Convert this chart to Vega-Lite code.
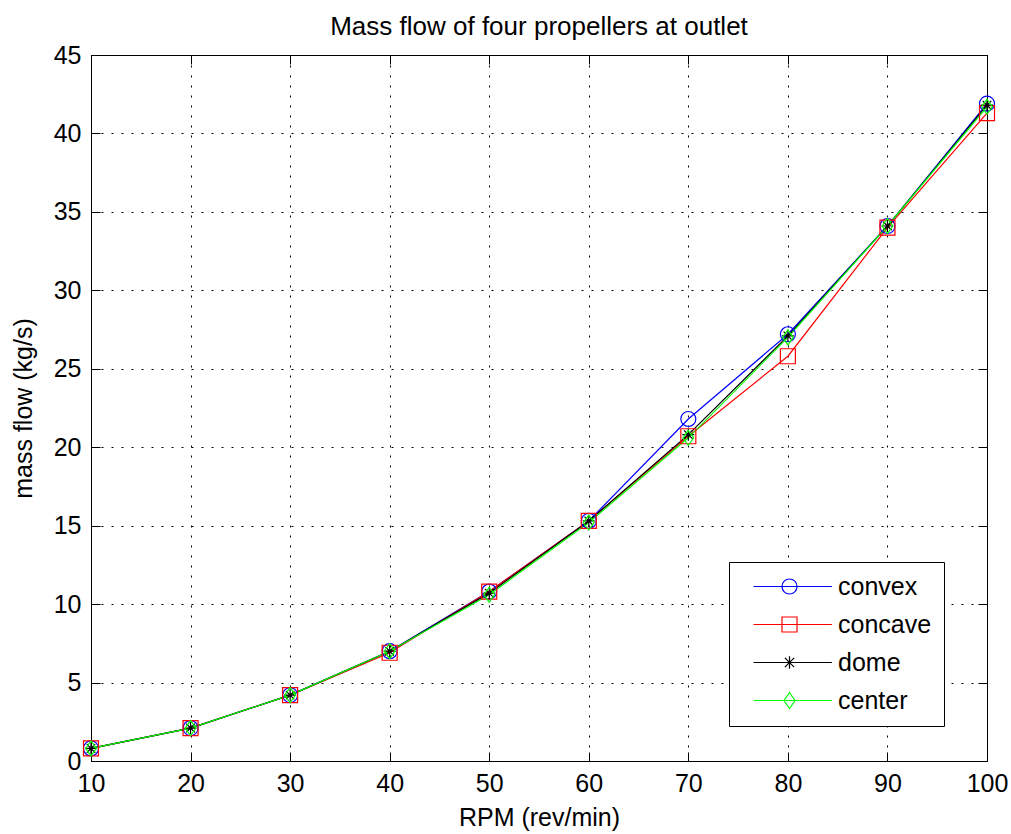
{
  "$schema": "https://vega.github.io/schema/vega-lite/v6.json",
  "autosize": {"type": "none"},
  "width": 896,
  "height": 706,
  "padding": {"left": 91, "top": 55, "right": 24, "bottom": 73},
  "background": "white",
  "config": {
    "font": "Liberation Sans",
    "view": {"stroke": "black", "strokeWidth": 1},
    "axis": {"domain": false}
  },
  "title": {"text": "Mass flow of four propellers at outlet", "fontSize": 26, "fontWeight": "normal", "color": "black", "offset": 3, "font": "Liberation Sans"},
  "data": {"values": [
    {"rpm": 10, "series": "convex", "flow": 0.8},
    {"rpm": 20, "series": "convex", "flow": 2.1},
    {"rpm": 30, "series": "convex", "flow": 4.2},
    {"rpm": 40, "series": "convex", "flow": 7.0},
    {"rpm": 50, "series": "convex", "flow": 10.8},
    {"rpm": 60, "series": "convex", "flow": 15.3},
    {"rpm": 70, "series": "convex", "flow": 21.8},
    {"rpm": 80, "series": "convex", "flow": 27.2},
    {"rpm": 90, "series": "convex", "flow": 34.1},
    {"rpm": 100, "series": "convex", "flow": 41.9},
    {"rpm": 10, "series": "concave", "flow": 0.8},
    {"rpm": 20, "series": "concave", "flow": 2.1},
    {"rpm": 30, "series": "concave", "flow": 4.2},
    {"rpm": 40, "series": "concave", "flow": 6.9},
    {"rpm": 50, "series": "concave", "flow": 10.8},
    {"rpm": 60, "series": "concave", "flow": 15.3},
    {"rpm": 70, "series": "concave", "flow": 20.7},
    {"rpm": 80, "series": "concave", "flow": 25.8},
    {"rpm": 90, "series": "concave", "flow": 34.0},
    {"rpm": 100, "series": "concave", "flow": 41.3},
    {"rpm": 10, "series": "dome", "flow": 0.8},
    {"rpm": 20, "series": "dome", "flow": 2.1},
    {"rpm": 30, "series": "dome", "flow": 4.2},
    {"rpm": 40, "series": "dome", "flow": 7.0},
    {"rpm": 50, "series": "dome", "flow": 10.7},
    {"rpm": 60, "series": "dome", "flow": 15.3},
    {"rpm": 70, "series": "dome", "flow": 20.8},
    {"rpm": 80, "series": "dome", "flow": 27.1},
    {"rpm": 90, "series": "dome", "flow": 34.1},
    {"rpm": 100, "series": "dome", "flow": 41.8},
    {"rpm": 10, "series": "center", "flow": 0.8},
    {"rpm": 20, "series": "center", "flow": 2.1},
    {"rpm": 30, "series": "center", "flow": 4.2},
    {"rpm": 40, "series": "center", "flow": 7.0},
    {"rpm": 50, "series": "center", "flow": 10.6},
    {"rpm": 60, "series": "center", "flow": 15.2},
    {"rpm": 70, "series": "center", "flow": 20.6},
    {"rpm": 80, "series": "center", "flow": 27.0},
    {"rpm": 90, "series": "center", "flow": 34.1},
    {"rpm": 100, "series": "center", "flow": 41.7}
  ]},
  "resolve": {"axis": {"x": "independent", "y": "independent"}},
  "layer": [
    {
      "mark": {"type": "line", "strokeWidth": 1.2},
      "encoding": {
        "x": {"field": "rpm", "type": "quantitative", "scale": {"domain": [10, 100], "nice": false, "zero": false},
          "axis": {"orient": "bottom", "values": [10,20,30,40,50,60,70,80,90,100], "title": "RPM (rev/min)", "labelFontSize": 25, "titleFontSize": 25, "titleFontWeight": "normal", "labelColor": "black", "titleColor": "black", "labelPadding": 19, "titlePadding": 9, "tickSize": -9, "tickColor": "black", "grid": true, "gridColor": "black", "gridDash": [2, 8], "gridOpacity": 1, "labelFlush": false, "labelOverlap": false, "labelFont": "Liberation Sans", "titleFont": "Liberation Sans"}},
        "y": {"field": "flow", "type": "quantitative", "scale": {"domain": [0, 45], "nice": false},
          "axis": {"orient": "left", "values": [0,5,10,15,20,25,30,35,40,45], "title": "mass flow (kg/s)", "labelFontSize": 25, "titleFontSize": 25, "titleFontWeight": "normal", "labelColor": "black", "titleColor": "black", "labelPadding": 19, "titlePadding": 17, "tickSize": -9, "tickColor": "black", "grid": true, "gridColor": "black", "gridDash": [2, 8], "gridOpacity": 1, "labelFlush": false, "labelOverlap": false, "labelFont": "Liberation Sans", "titleFont": "Liberation Sans"}},
        "color": {"field": "series", "type": "nominal",
          "scale": {"domain": ["convex", "concave", "dome", "center"], "range": ["#0000ff", "#ff0000", "#000000", "#00ff00"]},
          "legend": {
            "title": null, "orient": "none", "legendX": 638, "legendY": 507,
            "strokeColor": "black", "fillColor": "white", "padding": 12,
            "labelFontSize": 25, "labelColor": "black", "labelFont": "Liberation Sans", "labelOffset": 72,
            "symbolSize": 256, "symbolStrokeWidth": 1.2, "symbolFillColor": "transparent", "rowPadding": 12,
            "encode": {"symbols": {"update": {
              "shape": {"signal": "datum.value === 'convex' ? 'M0,0H9.8M5.44,0A0.94,0.94,0,1,1,3.56,0A0.94,0.94,0,1,1,5.44,0' : datum.value === 'concave' ? 'M0,0H9.8M3.56,-0.94H5.44V0.94H3.56Z' : datum.value === 'dome' ? 'M0,0H9.8M4.5,-0.79V0.79M3.92,-0.58L5.08,0.58M3.92,0.58L5.08,-0.58' : 'M0,0H9.8M4.5,-1L5.19,0L4.5,1L3.81,0Z'"},
              "size": {"value": 256},
              "fill": {"value": "transparent"},
              "strokeWidth": {"value": 1.2}
            }}}
          }}
      }
    },
    {
      "transform": [{"filter": "datum.series === 'convex'"}],
      "mark": {"type": "point", "shape": "circle", "color": "#0000ff", "filled": false, "size": 225, "strokeWidth": 1.2, "opacity": 1},
      "encoding": {
        "x": {"field": "rpm", "type": "quantitative", "scale": {"domain": [10, 100], "nice": false, "zero": false},
          "axis": {"orient": "top", "values": [10,20,30,40,50,60,70,80,90,100], "labels": false, "title": null, "tickSize": -9, "tickColor": "black", "grid": false}},
        "y": {"field": "flow", "type": "quantitative", "scale": {"domain": [0, 45], "nice": false},
          "axis": {"orient": "right", "values": [0,5,10,15,20,25,30,35,40,45], "labels": false, "title": null, "tickSize": -9, "tickColor": "black", "grid": false}}
      }
    },
    {
      "transform": [{"filter": "datum.series === 'concave'"}],
      "mark": {"type": "point", "shape": "square", "color": "#ff0000", "filled": false, "size": 225, "strokeWidth": 1.2, "opacity": 1},
      "encoding": {
        "x": {"field": "rpm", "type": "quantitative", "axis": null},
        "y": {"field": "flow", "type": "quantitative", "axis": null}
      }
    },
    {
      "transform": [{"filter": "datum.series === 'dome'"}],
      "mark": {"type": "point", "shape": "M-0.8,0H0.8M0,-0.8V0.8M-0.57,-0.57L0.57,0.57M-0.57,0.57L0.57,-0.57", "color": "#000000", "filled": false, "size": 225, "strokeWidth": 1.2, "opacity": 1},
      "encoding": {
        "x": {"field": "rpm", "type": "quantitative", "axis": null},
        "y": {"field": "flow", "type": "quantitative", "axis": null}
      }
    },
    {
      "transform": [{"filter": "datum.series === 'center'"}],
      "mark": {"type": "point", "shape": "M0,-1L0.72,0L0,1L-0.72,0Z", "color": "#00ff00", "filled": false, "size": 225, "strokeWidth": 1.2, "opacity": 1},
      "encoding": {
        "x": {"field": "rpm", "type": "quantitative", "axis": null},
        "y": {"field": "flow", "type": "quantitative", "axis": null}
      }
    }
  ]
}
